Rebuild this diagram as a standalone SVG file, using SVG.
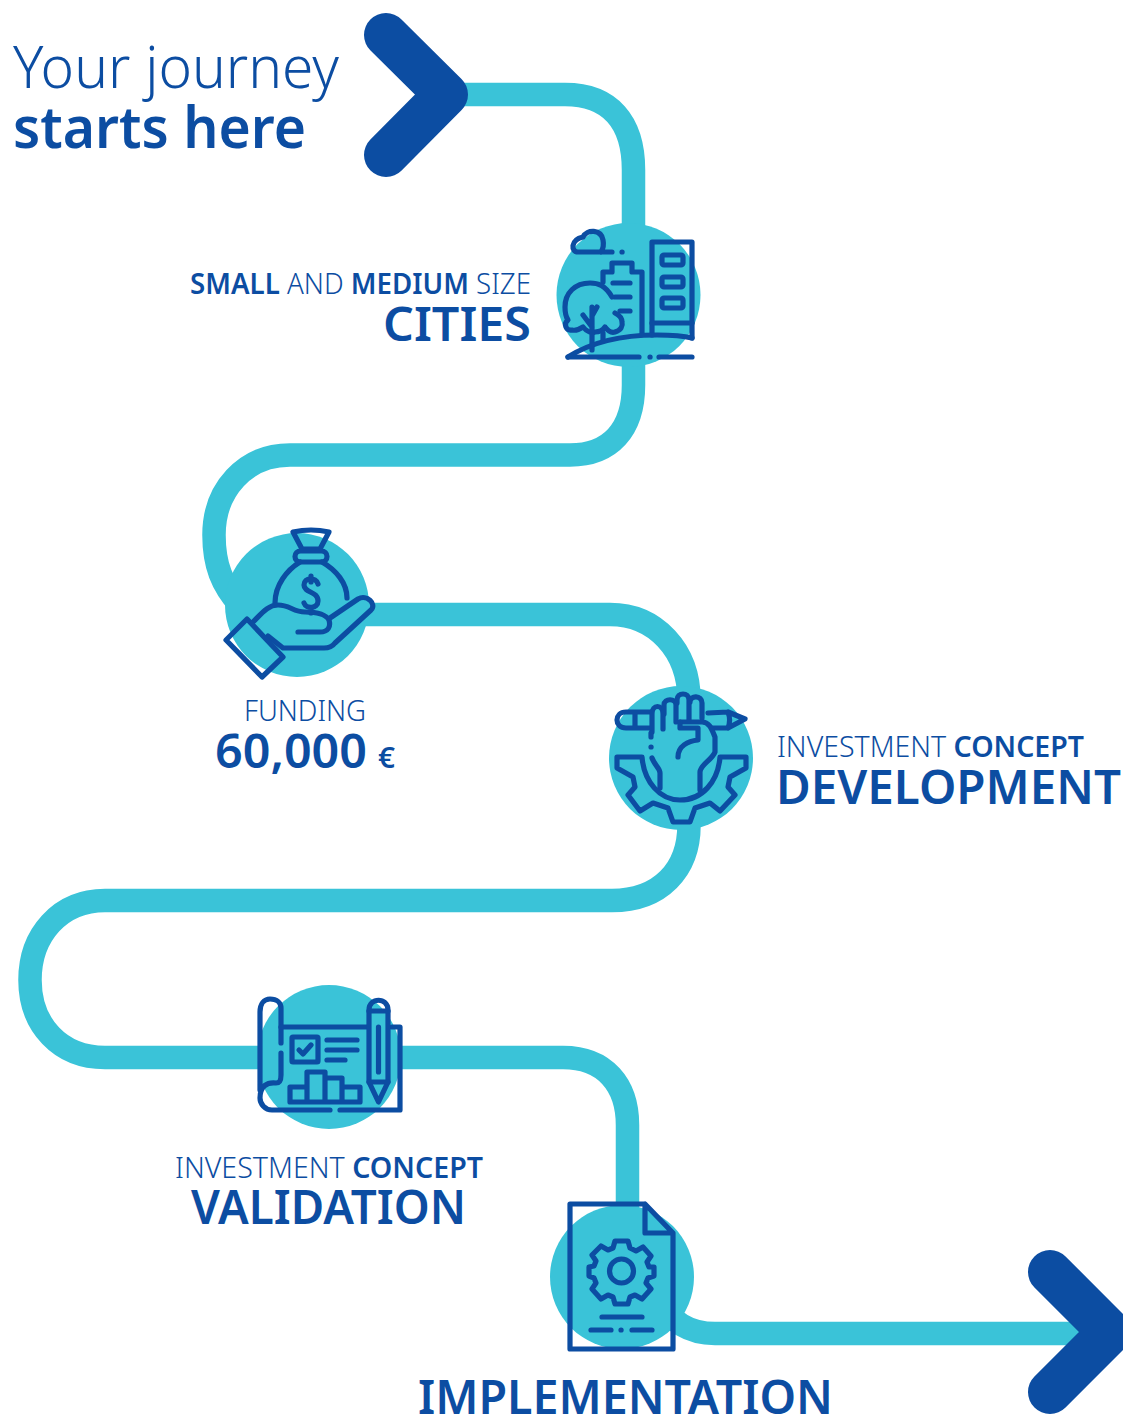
<svg xmlns="http://www.w3.org/2000/svg" width="1123" height="1419" viewBox="0 0 1123 1419">
<style>
.road{fill:none;stroke:#3ac3d8;stroke-width:23.5}
.chev{fill:none;stroke:#0c4da2;stroke-width:44;stroke-linecap:round;stroke-linejoin:round}
.disc{fill:#3ac3d8}
.ic{fill:none;stroke:#0c4da2;stroke-width:5.2;stroke-linecap:round;stroke-linejoin:round}
text{font-family:"Noto Sans","Open Sans","Liberation Sans",sans-serif;fill:#0c4da2}
.l{font-weight:300}
.b{font-weight:600}
</style>
<rect width="1123" height="1419" fill="#fff"/>
<g id="connectors">
<path class="road" d="M446 94.500H565C610 94.500 633.500 122 633.500 170V385C633.500 430 610 455 570 455H290C245 455 214 490 214 535C214 565 222 585 240 605"/>
<path class="road" d="M360 614.500H610C655 614.500 689 650 689 700V825C689 870 660 900.500 612 900.500H105C60 900.500 30 935 30 980C30 1025 60 1057.500 105 1057.500H563C605 1057.500 627.500 1085 627.500 1125V1215"/>
<path class="road" d="M660 1300C670 1322 690 1333.500 715 1333.500H1090"/>
<path id="start-arrow" class="chev" d="M386 35L446 94.500L386 155"/>
<path id="end-arrow" class="chev" d="M1050 1272L1110 1332L1050 1392"/>
</g>
<g id="title">
<text class="l" x="13" y="88" font-size="58" textLength="326" lengthAdjust="spacingAndGlyphs">Your journey</text>
<text class="b" x="13" y="148" font-size="58" textLength="293" lengthAdjust="spacingAndGlyphs">starts here</text>
</g>
<g id="node-cities">
<circle class="disc" cx="628.500" cy="295" r="72"/>
<g class="ic">
<path d="M612 252H578C571 252 570 240 583 237C587 229 601 229 603 240C604 245 603 249 601 252"/>
<path d="M622 252h.1"/>
<path d="M652 335V242H692V338"/>
<path d="M652 323H692"/>
<rect x="662" y="255" width="21" height="10" rx="2"/><rect x="662" y="277" width="21" height="10" rx="2"/><rect x="662" y="298" width="21" height="10" rx="2"/>
<path d="M603 282V272H612V263H632V272H642V333"/>
<path d="M613 283H630M615 297H630M620 311H630"/>
<path d="M612 297C605 285 598 283 590 283C575 283 565 293 565 307C565 313 566 317 568 320C563 324 566 331 572 330C576 331 580 329 583 327C587 332 592 333 595 332C599 332 603 330 605 327C608 331 612 333 615 332C621 330 623 326 622 322C622 318 619 315 615 313"/>
<path d="M592 350V307M592 327L583 315M592 316L597 307M603 333V340"/>
<path d="M568 357C590 343 620 335 657 335C672 335 684 336 692 338"/>
<path d="M568 357H639M650 357h.1M659 357H692"/>
</g>
</g>
<g id="label-cities">
<text x="190" y="294" font-size="29" textLength="341" lengthAdjust="spacingAndGlyphs"><tspan class="b">SMALL</tspan><tspan class="l"> AND </tspan><tspan class="b">MEDIUM</tspan><tspan class="l"> SIZE</tspan></text>
<text class="b" x="383" y="341" font-size="46" textLength="148" lengthAdjust="spacingAndGlyphs">CITIES</text>
</g>
<g id="node-funding">
<circle class="disc" cx="297" cy="605" r="72"/>
<g class="ic">
<path d="M293 532Q311 528 329 532L320 549H302Z"/>
<rect x="295" y="551" width="32" height="11" rx="5.500"/>
<path d="M300 562C287 570 275 585 275 603M322 562C336 570 347 583 347 598"/>
<path d="M318 584C316 577 304 577 304 585C304 593 318 591 318 601C318 609 306 609 304 603M311 576V582M311 609V613"/>
<path d="M253 622C262 613 268 605 278 605C290 605 293 612 305 612C315 612 325 613 329 620C331 627 328 632 320 632H298"/>
<path d="M330 618L358 599C367 594 377 604 371 610L335 643C332 647 328 648 324 648H283L268 636"/>
<path d="M226 640L247 619L283 657L262 677Z"/>
</g>
</g>
<g id="label-funding">
<text class="l" x="305" y="721" font-size="29" text-anchor="middle" textLength="122" lengthAdjust="spacingAndGlyphs">FUNDING</text>
<text class="b" x="215" y="768" font-size="46" textLength="152" lengthAdjust="spacingAndGlyphs">60,000</text>
<text class="b" x="378" y="768" font-size="28" textLength="17" lengthAdjust="spacingAndGlyphs">€</text>
</g>
<g id="node-development">
<circle class="disc" cx="681" cy="758" r="72"/>
<g class="ic">
<path d="M650 728H626C614 728 614 712 626 712H650M635 712V728"/>
<path d="M652 732V714C652 704 663 704 663 714V729"/>
<path d="M664 714V705C664 698 676 698 676 705V722"/>
<path d="M677 703V700C677 692 689 692 689 700V720"/>
<path d="M690 702C690 695 702 695 702 703V718"/>
<path d="M708 713L728 712L745 719L728 728H712M728 712C730 717 730 723 728 728"/>
<path d="M680 722H702C710 722 712 730 715 737V752C712 760 700 765 700 772V790"/>
<path d="M680 722V728H698V740C688 741 678 746 678 757"/>
<path d="M651 733V737M651 747h.1M652 758C655 766 660 768 660 773V788"/>
<path d="M642 757C644 782 660 800 680 800C702 800 718 782 720 757H746V768L730 777L728 787L735 795L720 811L710 803L695 808L690 822H673L668 808L653 803L640 811L628 795L635 787L633 777L617 768V757Z"/>
</g>
</g>
<g id="label-development">
<text x="777" y="757" font-size="29" textLength="307" lengthAdjust="spacingAndGlyphs"><tspan class="l">INVESTMENT </tspan><tspan class="b">CONCEPT</tspan></text>
<text class="b" x="776" y="804" font-size="46" textLength="345" lengthAdjust="spacingAndGlyphs">DEVELOPMENT</text>
</g>
<g id="node-validation">
<circle class="disc" cx="329" cy="1057" r="72"/>
<g class="ic">
<path d="M260 1090V1012C260 1004 264 999 270 999C277 999 281 1003 281 1008V1043M281 1053V1075C281 1080 280 1083 276 1083C267 1082 260 1086 260 1098C260 1104 265 1110 272 1110H330M340 1110H400V1027H392"/>
<path d="M281 1027H368"/>
<rect x="292" y="1037" width="26" height="25" rx="1"/>
<path d="M299 1050L303 1054L311 1045"/>
<path d="M327 1040H357M327 1050H357M327 1060H345"/>
<path d="M290 1102V1087H307V1072H325V1078H342V1087H360V1102ZM307 1087V1102M325 1078V1102M342 1087V1102"/>
<path d="M369 1082V1010C369 997 388 997 388 1010V1082L378.500 1102Z"/>
<path d="M378.500 1027V1072M369 1082H388M369 1011H388"/>
</g>
</g>
<g id="label-validation">
<text x="175" y="1178" font-size="29" textLength="308" lengthAdjust="spacingAndGlyphs"><tspan class="l">INVESTMENT </tspan><tspan class="b">CONCEPT</tspan></text>
<text class="b" x="191" y="1224" font-size="46" textLength="275" lengthAdjust="spacingAndGlyphs">VALIDATION</text>
</g>
<g id="node-implementation">
<circle class="disc" cx="622" cy="1277" r="72"/>
<g class="ic">
<path d="M645 1204H570V1349H673V1233L645 1204V1233H673"/>
<circle cx="621.500" cy="1271" r="12"/>
<path d="M615 1241H628L630 1248L636 1251L643 1247L651 1256L647 1262L649 1267H654V1276L648 1278L646 1283L651 1289L642 1299L635 1295L630 1297L628 1304H615L613 1297L608 1295L601 1299L592 1289L596 1283L594 1278L589 1276V1267L594 1266L596 1261L592 1255L601 1246L608 1250L613 1248Z"/>
<path d="M602 1317H642M591 1330H611M621 1330h.1M632 1330H652"/>
</g>
</g>
<g id="label-implementation">
<text class="b" x="418" y="1414" font-size="46" textLength="415" lengthAdjust="spacingAndGlyphs">IMPLEMENTATION</text>
</g>
</svg>
